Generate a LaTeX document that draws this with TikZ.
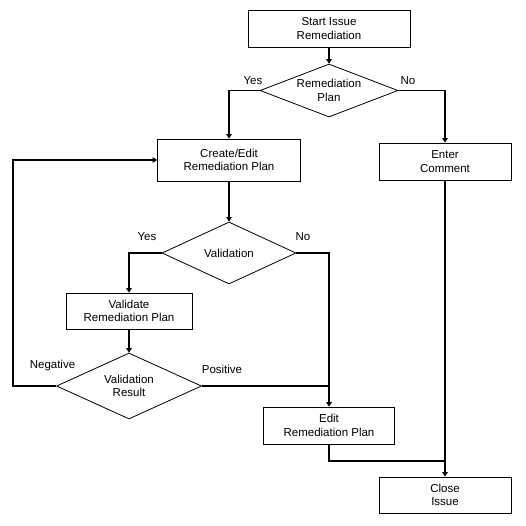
\documentclass[tikz,border=0pt]{standalone}
\usepackage{fontspec}
\setmainfont{Liberation Sans}
\usetikzlibrary{shapes.geometric}
\usetikzlibrary{arrows.meta}
\tikzset{
  process/.style={
    draw, line width=0.8pt, align=center, inner sep=0pt,
    font=\fontsize{11.5}{13.5}\selectfont,
  },
  decision/.style={
    draw, diamond, aspect=2.4, line width=0.8pt, align=center, inner sep=0pt,
    font=\fontsize{11.5}{13.5}\selectfont,
  },
  answer/.style={inner sep=0pt, font=\fontsize{11.5}{13.5}\selectfont},
  line/.style={line width=1.4pt},
  flow/.style={line, -{Triangle[length=4.5pt,width=5.5pt]}},
}

\begin{document}
\begin{tikzpicture}[x=1pt, y=-1pt]
  \useasboundingbox (0,0) rectangle (526,525);

  % Define nodes
  \node[process, minimum width=162pt, minimum height=37pt] (start) at (329,28.5) {Start Issue\\Remediation};
  \node[decision, aspect=2.6, minimum width=138pt, minimum height=53pt] (plan) at (329,90.5) {Remediation\\Plan};

  \node[process, minimum width=143pt, minimum height=42pt] (create) at (229,160) {Create/Edit\\Remediation Plan};
  \node[process, minimum width=132pt, minimum height=37pt] (comment) at (445,161.5) {Enter\\Comment};

  \node[decision, aspect=2.2, minimum width=134pt, minimum height=62pt] (valid) at (229,253) {Validation};

  \node[process, minimum width=126pt, minimum height=36pt] (check) at (129,311) {Validate\\Remediation Plan};
  \node[decision, aspect=2.2, minimum width=145pt, minimum height=66pt] (result) at (129,386) {Validation\\Result};

  \node[process, minimum width=131pt, minimum height=37pt] (edit) at (329,425.5) {Edit\\Remediation Plan};
  \node[process, minimum width=132pt, minimum height=36pt] (close) at (445,495) {Close\\Issue};

  \node[answer] (plan_yes) at (253,81) {Yes};
  \node[answer] (plan_no) at (408,81) {No};
  \node[answer] (valid_yes) at (147,237) {Yes};
  \node[answer] (valid_no) at (303,237) {No};
  \node[answer] (result_neg) at (52.5,366) {Negative};
  \node[answer] (result_pos) at (222,369) {Positive};

  \coordinate (loop) at (13,386);
  \coordinate (join) at (445,461);

  % Connect nodes
  \draw[flow] (start) -- (plan);
  \draw[flow] (plan.west) -| (create.north);
  \draw[flow] (plan.east) -| (comment.north);

  \draw[flow] (create) -- (valid);
  \draw[flow] (valid.west) -| (check.north);
  \draw[flow] (check) -- (result);
  \draw[flow] (valid.east) -| (edit.north);

  \draw[flow] (result.west) -- (loop) |- (create.west);
  \draw[line] (result.east) -- (result.east -| edit.north);

  \draw[flow] (comment) -- (close);
  \draw[line] (edit.south) |- (join);

\end{tikzpicture}
\end{document}
